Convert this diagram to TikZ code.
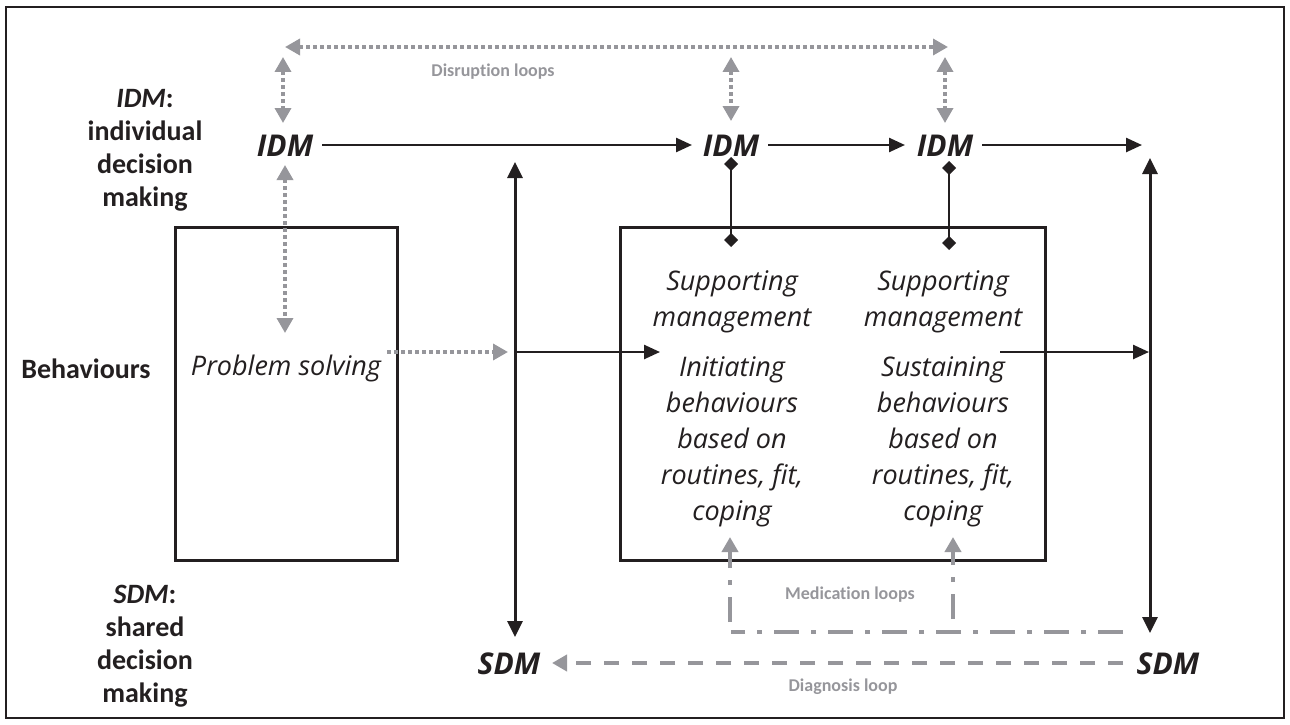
\documentclass[tikz,border=0pt]{standalone}
\usepackage{fontspec}
\setmainfont{Carlito}[Ligatures=NoCommon]
\newfontfamily\osans{Open Sans}
\usetikzlibrary{arrows.meta}
\definecolor{ink}{RGB}{35,31,32}
\definecolor{gry}{RGB}{150,150,155}
\begin{document}
\begin{tikzpicture}[x=1pt,y=-1pt,
  lbl/.style={font=\fontsize{28}{33}\selectfont\bfseries, align=center, text=ink, inner sep=0},
  idm/.style={font=\osans\fontsize{30}{34}\selectfont\bfseries\itshape, text=ink, inner sep=0},
  body/.style={font=\osans\fontsize{27}{36}\selectfont\itshape, align=center, text=ink, inner sep=0},
  gl/.style={font=\fontsize{18}{22}\selectfont\bfseries, text=gry, inner sep=0},
  blk/.style={draw=ink, line width=2.5pt, -{Triangle[length=16pt,width=14pt]}},
  dblk/.style={draw=ink, line width=3pt, {Triangle[length=16pt,width=15pt]}-{Triangle[length=16pt,width=15pt]}},
  dotg/.style={draw=gry, line width=3.5pt, dash pattern=on 3.5pt off 3.5pt},
  gtip/.style={-{Triangle[length=15pt,width=16pt]}},
  dgtip/.style={{Triangle[length=15pt,width=16pt]}-{Triangle[length=15pt,width=16pt]}},
  dashg/.style={draw=gry, line width=4pt, dash pattern=on 15pt off 13pt},
  medg/.style={draw=gry, line width=4pt, dash pattern=on 25pt off 12pt on 5pt off 12pt},
  boxst/.style={draw=ink, line width=3pt, inner sep=0},
  dia/.style={draw=ink, line width=1.5pt, {Diamond[length=14pt,width=14pt]}-{Diamond[length=14pt,width=14pt]}}
]
\useasboundingbox (0,0) rectangle (1290,725);
\draw[ink, line width=2.5pt] (6,7) rectangle (1284,718);

% left labels
\node[lbl] (lidm) at (145,150) {\textit{IDM}:\\individual\\decision\\making};
\node[lbl] (lbeh) at (86,369) {Behaviours};
\node[lbl] (lsdm) at (145,646) {\textit{SDM}:\\shared\\decision\\making};

% boxes
\node[boxst, minimum width=222pt, minimum height=333pt] (lbox) at (286,393.5) {};
\node[boxst, minimum width=425pt, minimum height=333pt] (rbox) at (832.5,393.5) {};

% texts
\node[body] (ps) at (286,368) {Problem solving};
\node[body] (sm1) at (732,302) {Supporting\\management};
\node[body] (ib) at (732,442) {Initiating\\behaviours\\based on\\routines, fit,\\coping};
\node[body] (sm2) at (943,302) {Supporting\\management};
\node[body] (sb) at (943,442) {Sustaining\\behaviours\\based on\\routines, fit,\\coping};

% IDM / SDM nodes
\node[idm] (idm1) at (285,146) {IDM};
\node[idm] (idm2) at (731,146) {IDM};
\node[idm] (idm3) at (945,146) {IDM};
\node[idm] (sdm1) at (509,664) {SDM};
\node[idm] (sdm2) at (1168,664) {SDM};

% coordinates
\coordinate (a1s) at (322,145);
\coordinate (a1e) at (692,145);
\coordinate (a2s) at (768,145);
\coordinate (a2e) at (905,145);
\coordinate (a3s) at (982,145);
\coordinate (a3e) at (1142,145);
\coordinate (v1t) at (515,162);
\coordinate (v1b) at (515,637);
\coordinate (v2t) at (1150,158);
\coordinate (v2b) at (1150,633);
\coordinate (hms) at (515,352);
\coordinate (hme) at (660,352);
\coordinate (hrs) at (1000,352);
\coordinate (hre) at (1149,352);
\coordinate (pss) at (387,352);
\coordinate (pse) at (508,352);

% black arrows
\draw[blk] (a1s) -- (a1e);
\draw[blk] (a2s) -- (a2e);
\draw[blk] (a3s) -- (a3e);
\draw[dblk] (v1t) -- (v1b);
\draw[dblk] (v2t) -- (v2b);
\draw[blk] (hms) -- (hme);
\draw[blk] (hrs) -- (hre);

% diamonds
\draw[dia] (731,157) -- (731,247);
\draw[dia] (949,161) -- (949,250);

% disruption loops
\coordinate (dl) at (285,47);
\coordinate (dr) at (948,47);
\draw[dotg, dgtip] (dl) -- (dr);
\node[gl] (dlab) at (493,72) {Disruption loops};
\draw[dotg, dgtip] (283,57) -- (283,123);
\draw[dotg, dgtip] (731,57) -- (731,121);
\draw[dotg, dgtip] (945,57) -- (945,123);
\draw[dotg, dgtip] (285,165) -- (285,333);
\draw[dotg, gtip] (pss) -- (pse);

% medication loops
\coordinate (mr) at (1123,632);
\coordinate (ml) at (731,632);
\draw[medg] (mr) -- (ml);
\draw[medg, gtip] (730,622) -- (730,537);
\draw[medg, gtip] (953,619) -- (953,537);
\node[gl] (mlab) at (850,595) {Medication loops};

% diagnosis loop
\coordinate (gr) at (1123,663);
\coordinate (gl2) at (552,663);
\draw[dashg, gtip] (gr) -- (gl2);
\node[gl] (glab) at (843,687) {Diagnosis loop};
\end{tikzpicture}
\end{document}
